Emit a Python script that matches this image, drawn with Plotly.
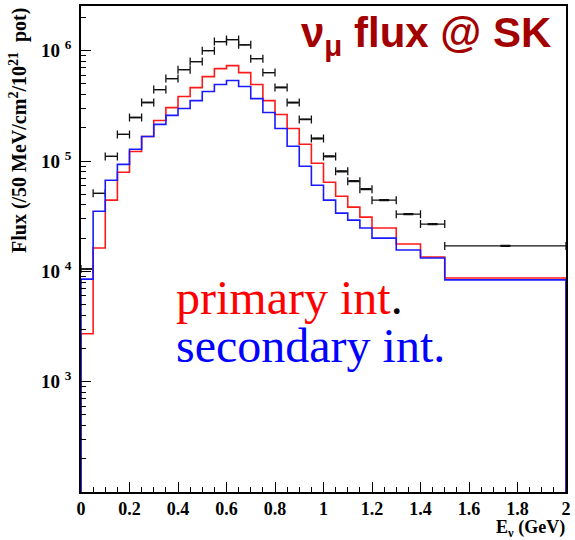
import plotly.graph_objects as go

# ---------------- data ----------------
bin_edges = [0.00, 0.05, 0.10, 0.15, 0.20, 0.25, 0.30, 0.35, 0.40, 0.45, 0.50,
             0.55, 0.60, 0.65, 0.70, 0.75, 0.80, 0.85, 0.90, 0.95, 1.00,
             1.05, 1.10, 1.15, 1.20, 1.30, 1.40, 1.50, 2.00]

total_flux = [1.05e4, 5.1e4, 1.10e5, 1.74e5, 2.48e5, 3.39e5, 4.44e5, 5.59e5,
              6.73e5, 7.96e5, 1.00e6, 1.21e6, 1.26e6, 1.13e6, 8.47e5, 6.33e5,
              4.64e5, 3.39e5, 2.38e5, 1.60e5, 1.10e5, 8.07e4, 6.56e4, 5.55e4,
              4.42e4, 3.30e4, 2.68e4, 1.70e4]
total_rel_err = [0.0, 0.0, 0.0, 0.0, 0.0, 0.0, 0.0, 0.0, 0.0, 0.0, 0.0, 0.0,
                 0.0, 0.0, 0.0, 0.0, 0.005, 0.005, 0.005, 0.008, 0.01, 0.01,
                 0.01, 0.01, 0.01, 0.01, 0.01, 0.01]

primary_flux = [2.72e3, 1.63e4, 4.42e4, 7.91e4, 1.22e5, 1.67e5, 2.33e5, 3.05e5,
                3.84e5, 4.63e5, 5.82e5, 6.88e5, 7.32e5, 6.33e5, 4.93e5, 3.53e5,
                2.64e5, 1.97e5, 1.42e5, 9.53e4, 6.42e4, 4.80e4, 3.82e4, 3.10e4,
                2.47e4, 1.77e4, 1.35e4, 8.7e3]

secondary_flux = [8.5e3, 3.51e4, 6.70e4, 9.33e4, 1.28e5, 1.67e5, 2.15e5, 2.59e5,
                  2.99e5, 3.53e5, 4.26e5, 4.93e5, 5.36e5, 4.73e5, 3.68e5, 2.75e5,
                  1.97e5, 1.36e5, 8.96e4, 6.03e4, 4.42e4, 3.37e4, 2.91e4, 2.47e4,
                  2.00e4, 1.56e4, 1.32e4, 8.36e3]

x_tick_vals = [0, 0.2, 0.4, 0.6, 0.8, 1.0, 1.2, 1.4, 1.6, 1.8, 2.0]
x_tick_text = ["0", "0.2", "0.4", "0.6", "0.8", "1", "1.2", "1.4", "1.6", "1.8", "2"]
y_tick_vals = [1e3, 1e4, 1e5, 1e6]
y_tick_text = ["10&nbsp;<sup>3</sup>", "10&nbsp;<sup>4</sup>", "10&nbsp;<sup>5</sup>", "10&nbsp;<sup>6</sup>"]
y_minor_vals = [m * 10 ** k for k in range(2, 7) for m in range(2, 10)]

# ---------------- helpers ----------------
centers = [(a + b) / 2 for a, b in zip(bin_edges[:-1], bin_edges[1:])]
half_w = [(b - a) / 2 for a, b in zip(bin_edges[:-1], bin_edges[1:])]
total_err = [v * e for v, e in zip(total_flux, total_rel_err)]

Y_BOTTOM = 10.0  # below the visible range so the outer edges drop to the axis


def step_xy(vals):
    xs = [bin_edges[0]] + bin_edges[:-1] + [bin_edges[-1], bin_edges[-1]]
    ys = [Y_BOTTOM] + list(vals) + [vals[-1], Y_BOTTOM]
    return xs, ys


fig = go.Figure()

fig.add_trace(go.Scatter(
    x=centers, y=total_flux, mode="markers",
    marker=dict(size=1, color="black"),
    error_x=dict(type="data", array=half_w, color="#111111", thickness=1.3, width=4),
    error_y=dict(type="data", array=total_err, color="#111111", thickness=1.3, width=5),
    hoverinfo="skip"))

xs, ys = step_xy(primary_flux)
fig.add_trace(go.Scatter(x=xs, y=ys, mode="lines", line=dict(color="#ff1a1a", width=1.6, shape="hv")))
xs, ys = step_xy(secondary_flux)
fig.add_trace(go.Scatter(x=xs, y=ys, mode="lines", line=dict(color="#1a1aff", width=1.6, shape="hv")))

L, R, T, B = 81, 5, 4, 48
W, H = 575, 540
PW, PH = W - L - R, H - T - B


def px(xp):
    return (xp - L) / PW


def py(yp):
    return 1 - (yp - T) / PH


x_tick_font = dict(family="Liberation Serif", size=18, color="black", weight="bold")
y_tick_font = dict(family="Liberation Serif", size=19, color="black", weight="bold")

fig.update_layout(
    width=W, height=H,
    margin=dict(l=L, r=R, t=T, b=B),
    paper_bgcolor="white", plot_bgcolor="white",
    showlegend=False,
    xaxis=dict(range=[0, 2], tickmode="array", tickvals=x_tick_vals, ticktext=x_tick_text,
               ticks="inside", ticklen=10, tickwidth=1, tickcolor="black",
               minor=dict(ticks="inside", ticklen=5, tickwidth=1, tickcolor="black", dtick=0.05, showgrid=False),
               showline=True, linecolor="black", linewidth=1.5, mirror=True,
               showgrid=False, zeroline=False, tickfont=x_tick_font, ticklabelstandoff=0),
    yaxis=dict(type="log", range=[2, 6.405], tickmode="array", tickvals=y_tick_vals, ticktext=y_tick_text,
               ticks="inside", ticklen=10, tickwidth=1, tickcolor="black",
               minor=dict(ticks="inside", ticklen=5, tickwidth=1, tickcolor="black",
                          tickmode="array", tickvals=y_minor_vals, showgrid=False),
               showline=True, linecolor="black", linewidth=1.5, mirror=True,
               showgrid=False, zeroline=False, tickfont=y_tick_font, ticklabelstandoff=4),
)

fig.add_annotation(
    xref="paper", yref="paper", x=px(18), y=py(4), xanchor="center", yanchor="top",
    text="Flux (/50 MeV/cm<sup>2</sup>/10<sup>21</sup>  pot)", textangle=-90, showarrow=False,
    font=dict(family="Liberation Serif", size=20, color="black", weight="bold"))

fig.add_annotation(
    xref="paper", yref="paper", x=px(571), y=py(515), xanchor="right", yanchor="top",
    text="E<sub>ν</sub> (GeV)", showarrow=False,
    font=dict(family="Liberation Serif", size=18, color="black", weight="bold"))

fig.add_annotation(
    xref="paper", yref="paper", x=px(557), y=py(5), xanchor="right", yanchor="top",
    text="ν<sub>μ</sub> flux @ SK", showarrow=False,
    font=dict(family="Liberation Sans", size=42, color="#a30000", weight="bold"))

fig.add_annotation(
    xref="paper", yref="paper", x=px(175), y=py(268), xanchor="left", yanchor="top",
    text="primary int<span style='color:black'>.</span>", showarrow=False,
    font=dict(family="Liberation Serif", size=48, color="#ff0000"))

fig.add_annotation(
    xref="paper", yref="paper", x=px(175), y=py(316), xanchor="left", yanchor="top",
    text="secondary int.", showarrow=False,
    font=dict(family="Liberation Serif", size=48, color="#0000ff"))

fig.write_html("out.html")
